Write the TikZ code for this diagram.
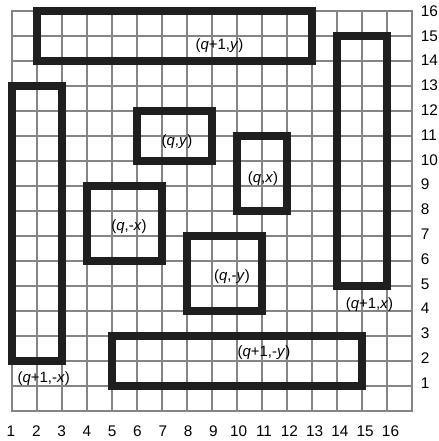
\documentclass[tikz,border=0pt]{standalone}
\usepackage{fontspec}
\setmainfont{Liberation Sans}
\begin{document}
\begin{tikzpicture}[x=1cm,y=1cm,
  gridline/.style={draw=black!48, line width=2.2pt},
  block/.style={draw=black!88, line width=9pt},
  lbl/.style={font=\fontsize{17}{20}\selectfont, inner sep=0pt},
  num/.style={font=\fontsize{17.5}{20}\selectfont, inner sep=0pt}]
\useasboundingbox (-0.48,-1.2) rectangle (17.07,16.44);
\fill[white] (-0.48,-1.2) rectangle (17.07,16.44);
\draw[gridline] (0,0) grid (16,16);
\draw[gridline] (0,0) rectangle (16,16);
% blocks
\draw[block] (1,14) rectangle (12,16);
\draw[block] (0,2) rectangle (2,13);
\draw[block] (5,10) rectangle (8,12);
\draw[block] (3,6) rectangle (6,9);
\draw[block] (9,8) rectangle (11,11);
\draw[block] (13,5) rectangle (15,15);
\draw[block] (7,4) rectangle (10,7);
\draw[block] (4,1) rectangle (14,3);
% labels
\node[lbl] (l1) at (8.3,14.6) {(\textit{q}+1,\textit{y})};
\node[lbl] (l2) at (6.6,10.76) {(\textit{q},\textit{y})};
\node[lbl] (l3) at (10.04,9.3) {(\textit{q},\textit{x})};
\node[lbl] (l4) at (4.68,7.36) {(\textit{q},-\textit{x})};
\node[lbl] (l5) at (8.8,5.36) {(\textit{q},-\textit{y})};
\node[lbl] (l6) at (14.3,4.24) {(\textit{q}+1,\textit{x})};
\node[lbl] (l7) at (10.08,2.32) {(\textit{q}+1,-\textit{y})};
\node[lbl] (l8) at (1.27,1.28) {(\textit{q}+1,-\textit{x})};
% axis numbers
\foreach \n in {1,...,16} {
  \node[num] (b\n) at ({(\n-1)*1.012-0.04},-0.8) {\n};
  \node[num, anchor=west] (r\n) at (16.35,{1.12+(\n-1)*0.992}) {\n};
}
\end{tikzpicture}
\end{document}
